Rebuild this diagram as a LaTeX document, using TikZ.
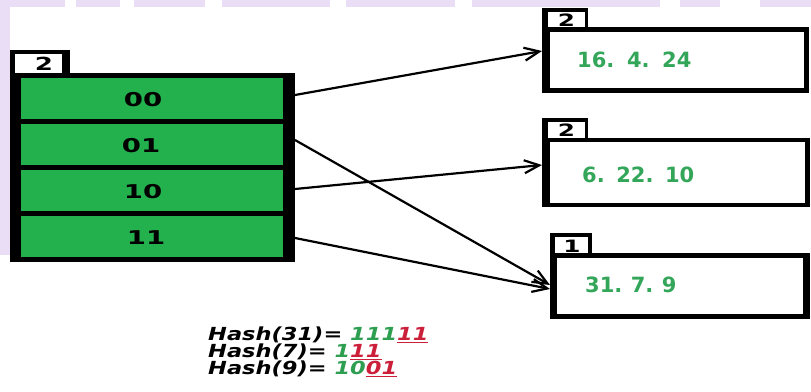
\documentclass[tikz,border=0pt]{standalone}
\usepackage{fontspec}
\usetikzlibrary{arrows.meta}
\newfontfamily\cellfont[FakeStretch=1.45]{DejaVu Sans}
\newfontfamily\valfont{DejaVu Sans}
\newfontfamily\hashfont[FakeStretch=1.25]{DejaVu Sans}
\definecolor{cellgreen}{HTML}{22B14C}
\definecolor{valgreen}{HTML}{33A65A}
\definecolor{hgreen}{HTML}{2E9E50}
\definecolor{hred}{HTML}{CC1F3A}
\definecolor{wm}{HTML}{E9DEF5}
\tikzset{
  box/.style={inner sep=0pt, outer sep=0pt, anchor=north west},
  blk/.style={box, fill=black},
  wht/.style={box, fill=white},
  cell/.style={box, fill=cellgreen, minimum width=262pt, minimum height=41pt},
  celltxt/.style={inner sep=0pt, font=\cellfont\bfseries\fontsize{19}{19}\selectfont},
  labtxt/.style={inner sep=0pt, font=\cellfont\bfseries\fontsize{17}{17}\selectfont},
  valtxt/.style={inner sep=0pt, anchor=west, text=valgreen, font=\valfont\bfseries\fontsize{21}{21}\selectfont},
  hashtxt/.style={inner sep=0pt, anchor=west, font=\hashfont\bfseries\itshape\fontsize{18}{18}\selectfont},
  arr/.style={line width=2.2pt, -{Straight Barb[length=15pt,width=13pt,line width=2.2pt]}}
}
\newcommand{\gap}[1]{.\hspace{#1}}
\begin{document}
\begin{tikzpicture}[x=1pt,y=-1pt]
\useasboundingbox (0,0) rectangle (811,391);
% faint watermark
\fill[wm] (0,0) rectangle (10,255);
\fill[wm] (0,0) rectangle (65,7);
\fill[wm] (76,0) rectangle (120,7);
\fill[wm] (134,0) rectangle (205,7);
\fill[wm] (222,0) rectangle (330,7);
\fill[wm] (346,0) rectangle (455,7);
\fill[wm] (472,0) rectangle (660,7);
\fill[wm] (680,0) rectangle (720,7);
\fill[wm] (760,0) rectangle (811,7);
% directory
\node[blk, minimum width=60pt, minimum height=26pt] (dlab) at (10,50) {};
\node[wht, minimum width=47pt, minimum height=20pt] (dlabin) at (15,54) {};
\node[labtxt, font=\cellfont\bfseries\fontsize{18}{18}\selectfont] (dlabt) at (44,63.5) {2};
\node[blk, minimum width=285pt, minimum height=189pt] (dir) at (10,73) {};
\node[cell] (c00) at (21,78) {};
\node[cell] (c01) at (21,124) {};
\node[cell] (c10) at (21,170) {};
\node[cell] (c11) at (21,216) {};
\node[celltxt] (t00) at (143,100) {00};
\node[celltxt] (t01) at (141,146) {01};
\node[celltxt] (t10) at (143,192) {10};
\node[celltxt] (t11) at (146,238) {11};
% bucket 1
\node[blk, minimum width=46pt, minimum height=22pt] (b1lab) at (542,8) {};
\node[wht, minimum width=37pt, minimum height=16pt] (b1labin) at (548,12) {};
\node[labtxt] (b1labt) at (566.5,20) {2};
\node[blk, minimum width=267pt, minimum height=66pt] (b1) at (542,27) {};
\node[wht, minimum width=254pt, minimum height=56pt] (b1in) at (550,32) {};
\node[valtxt] (b1t) at (577,60) {16\gap{0.6em}4\gap{0.6em}24};
% bucket 2
\node[blk, minimum width=46pt, minimum height=22pt] (b2lab) at (542,118) {};
\node[wht, minimum width=37pt, minimum height=16pt] (b2labin) at (548,122) {};
\node[labtxt] (b2labt) at (566.5,130) {2};
\node[blk, minimum width=268pt, minimum height=69pt] (b2) at (542,138) {};
\node[wht, minimum width=255pt, minimum height=61pt] (b2in) at (550,142) {};
\node[valtxt] (b2t) at (582,175) {6\gap{0.55em}22\gap{0.55em}10};
% bucket 3
\node[blk, minimum width=42pt, minimum height=24pt] (b3lab) at (550,233) {};
\node[wht, minimum width=33pt, minimum height=18pt] (b3labin) at (555,237) {};
\node[labtxt] (b3labt) at (572,246) {1};
\node[blk, minimum width=260pt, minimum height=66pt] (b3) at (550,253) {};
\node[wht, minimum width=246pt, minimum height=56pt] (b3in) at (557,258) {};
\node[valtxt] (b3t) at (585,285) {31\gap{0.4em}7\gap{0.4em}9};
% pointers
\draw[arr] ([yshift=3.5pt]c00.east -| dir.east) -- ([yshift=9pt]b1.west);
\draw[arr] ([yshift=4.5pt]c01.east -| dir.east) -- ([yshift=1pt]b3.west);
\draw[arr] ([yshift=1.5pt]c10.east -| dir.east) -- ([yshift=7.5pt]b2.west);
\draw[arr] ([yshift=-1.5pt]c11.east -| dir.east) -- ([yshift=-3pt]b3.west);
% hash lines
\node[hashtxt] (h1) at (208,335) {Hash(31)= \textcolor{hgreen}{111}\textcolor{hred}{\underline{11}}};
\node[hashtxt] (h2) at (208,352) {Hash(7)= \textcolor{hgreen}{1}\textcolor{hred}{\underline{11}}};
\node[hashtxt] (h3) at (208,368.5) {Hash(9)= \textcolor{hgreen}{10}\textcolor{hred}{\underline{01}}};
\end{tikzpicture}
\end{document}
